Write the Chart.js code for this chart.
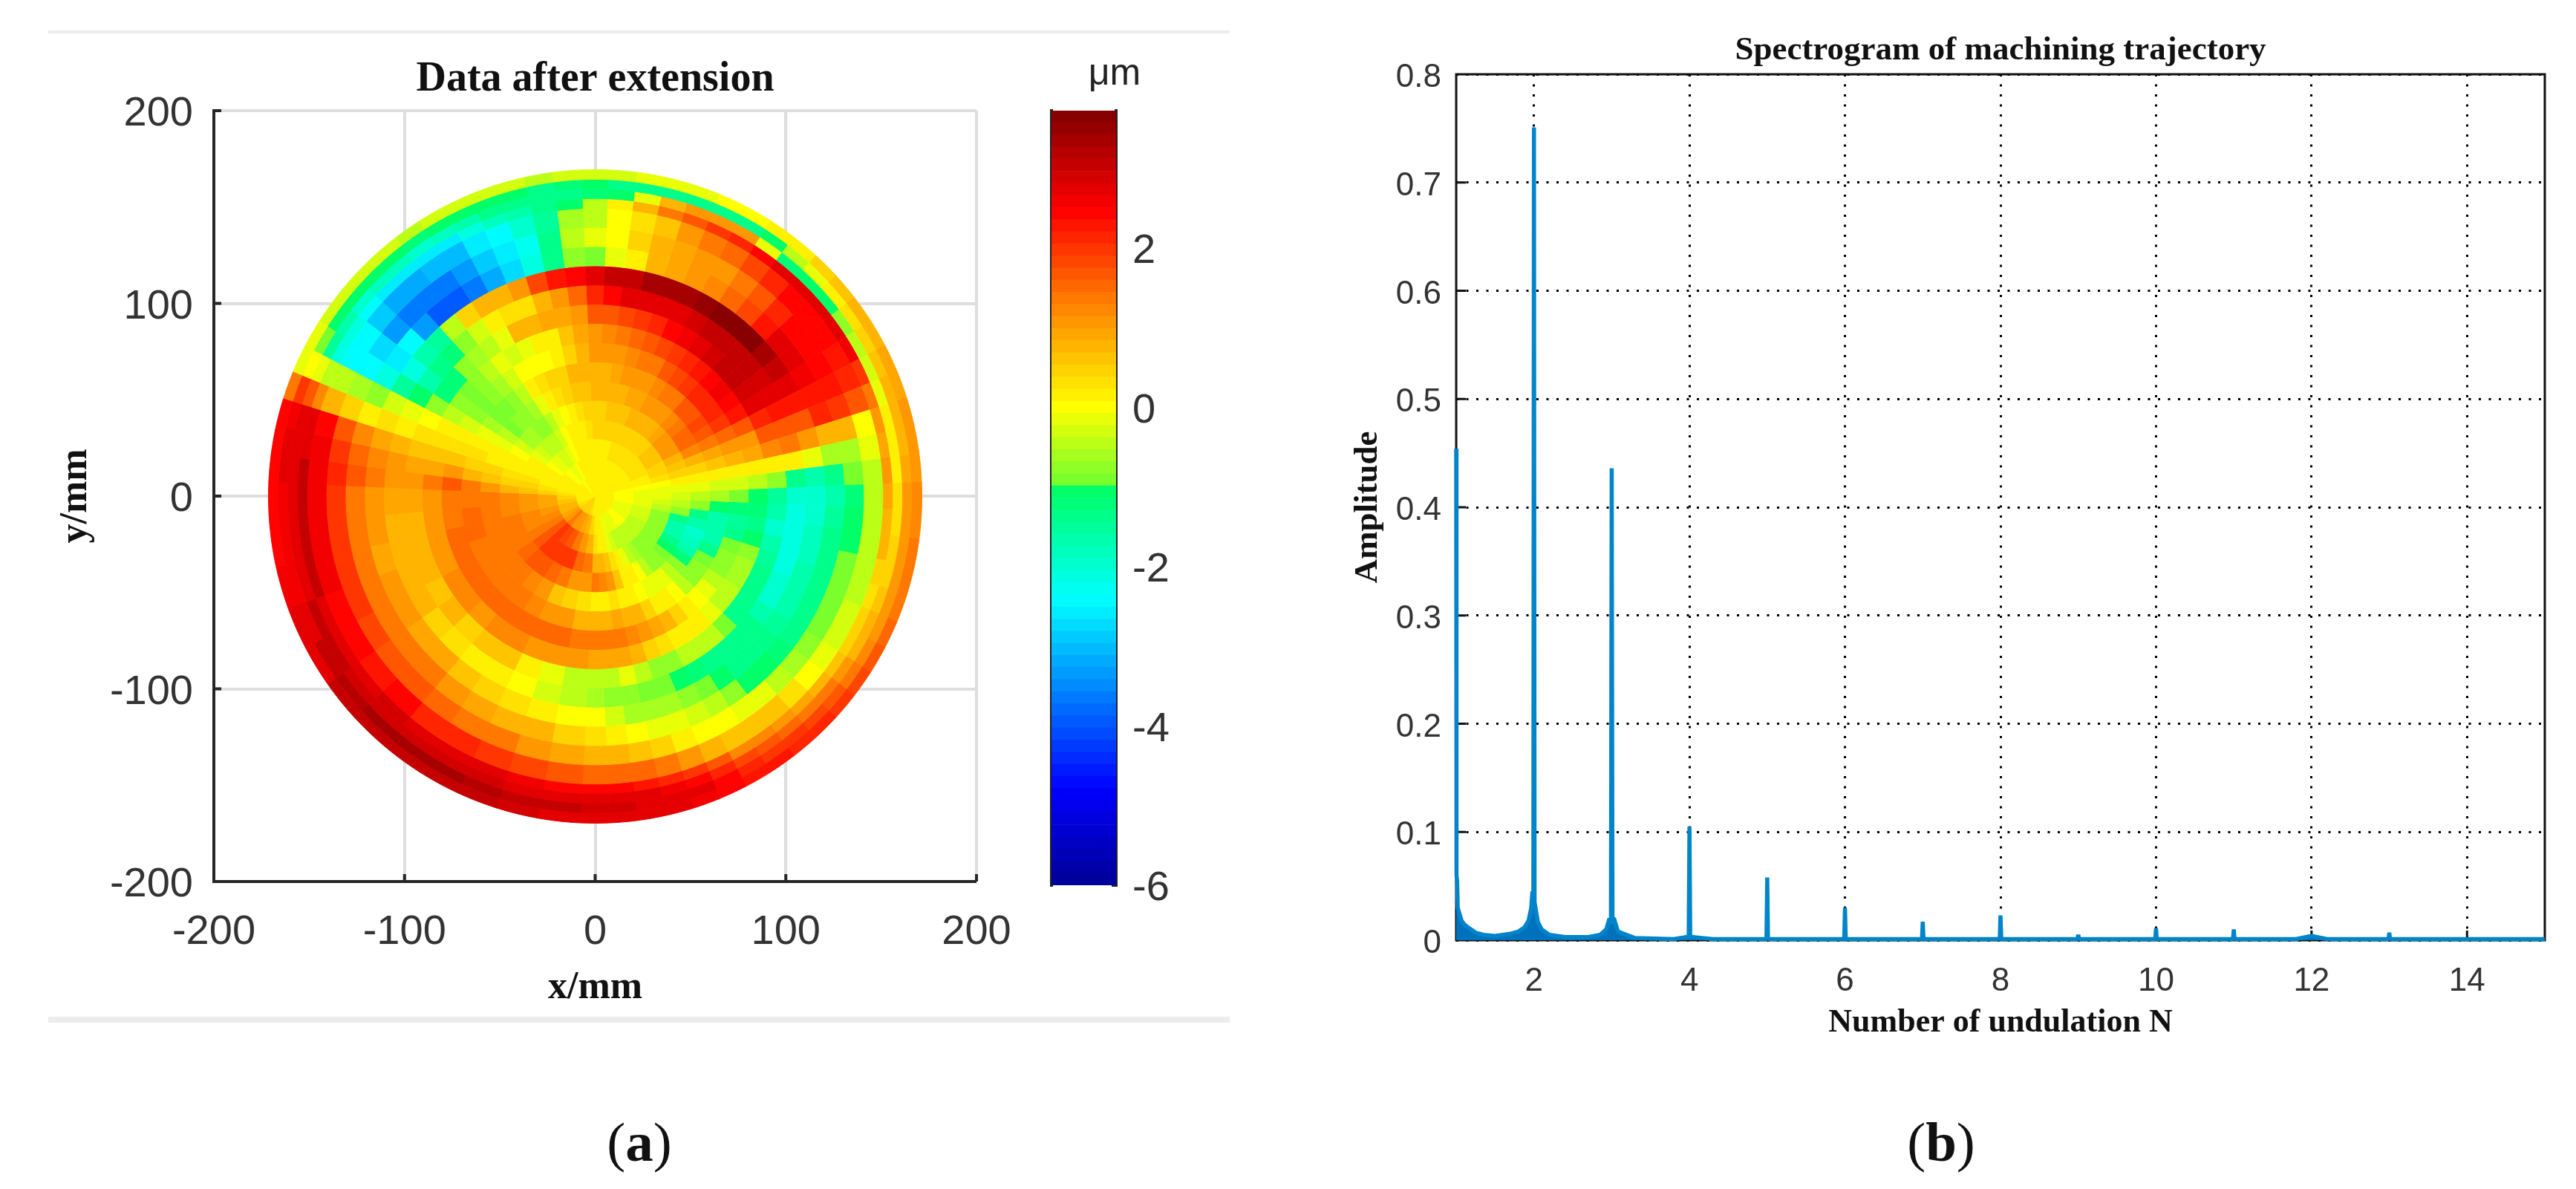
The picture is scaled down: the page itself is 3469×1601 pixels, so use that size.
<!DOCTYPE html>
<html>
<head>
<meta charset="utf-8">
<title>Data after extension / Spectrogram</title>
<script src="https://cdn.jsdelivr.net/npm/chart.js@4"></script>
<style>
html,body{margin:0;padding:0;background:#fff;width:3469px;height:1601px;overflow:hidden}
canvas{position:absolute}
.rule{position:absolute;background:#ececec}
.cap{position:absolute;font:75px "Liberation Serif",serif;color:#111;transform:translateX(-50%)}
</style>
</head>
<body>
<div class="rule" style="left:65px;top:41px;width:1591px;height:4px"></div>
<div class="rule" style="left:65px;top:1369px;width:1591px;height:8px"></div>
<canvas id="mapAxes"></canvas>
<canvas id="mapDisc"></canvas>
<canvas id="colorbar"></canvas>
<canvas id="spectrum"></canvas>
<div class="cap" style="left:861px;top:1495px">(<b>a</b>)</div>
<div class="cap" style="left:2614px;top:1495px">(<b>b</b>)</div>
<script>
// left panel: surface error in um
var ringEdges = [0,10,20,30,40,50,60,70,80,90,100,110,120,130,140,150,155,160,165,170];
// angular width of each sector, clockwise, starting 2.5 deg left of the top
var sectorSpans = [5,5,5,5,5,5,5,5,5,5,5,5,5,5,5,5,5,5,5,
 5,5,5,5,5,5,5,5,5,5,5,5,5,5,5,5,5,5,
 7.5,7.5,7.5,7.5,7.5,7.5,7.5,7.5,7.5,7.5,7.5,7.5,
 5,5,5,5,5,5,5,5,5,5,5,5,5,5,5,5,5];
// one row per sector, values from the centre to the rim
var sectorValues = [
 [.1,.1,.2,.4,.5,.7,.8,1,1,1.6,2.2,2.8,-.9,-.2,-.5,-.4,-1.2,-1,-.3],
 [.1,.1,.2,.4,.5,.7,.8,1,1.2,1.7,2.4,3,-.2,0,0,.1,-1,-1.3,-.3],
 [.1,.1,.2,.4,.6,.8,.9,1.1,1.4,1.8,2.7,3.1,.1,.4,.3,.7,-.2,-1.4,-.2],
 [.1,.1,.2,.4,.6,.8,1,1.2,1.5,2,2.7,3.3,.7,.7,.6,1.4,.8,-1.4,-.2],
 [.1,.1,.3,.5,.6,.9,1,1.3,1.6,2.2,2.7,3.4,.9,.9,1,1.7,1,-1.4,-.1],
 [.1,.1,.3,.5,.7,.9,1.1,1.4,1.8,2.4,2.8,3.3,1,1,1.3,2,1,-1.3,0],
 [.1,.1,.3,.5,.7,1,1.2,1.6,2,2.6,2.9,3.5,1.2,1.1,1.5,2.2,1,-1.3,0],
 [.1,.1,.3,.5,.7,1,1.3,1.8,2.2,2.8,3,3.6,1.5,1.3,1.8,2.5,-.2,-1,.2],
 [.1,.1,.3,.5,.8,1.1,1.4,1.9,2.3,2.9,3.1,3.6,1.8,1.6,2.2,2.7,-1.2,-.5,.2],
 [.1,.1,.3,.5,.9,1.2,1.6,2.1,2.5,3,3.1,3.6,2.3,2.1,2.4,2.7,-1.1,-.1,.4],
 [.1,.1,.3,.6,1,1.4,1.7,2.2,2.6,3,3.1,3.3,2.7,2.4,2.5,2.7,-1,.2,.6],
 [.1,.1,.3,.6,1,1.5,1.8,2.1,2.5,2.9,2.9,3,2.7,2.5,2.4,2.7,-.8,.3,.7],
 [.1,.1,.3,.6,1,1.5,1.7,1.9,2.3,2.7,2.7,2.7,2.6,2.5,2.3,2.6,-.5,.5,.8],
 [.1,.1,.3,.5,.8,1.2,1.3,1.5,1.6,2.2,2.3,2.3,2.3,2.3,2.2,2,-.3,.6,.85],
 [.1,.1,.2,.4,.6,.8,.9,1,1,1.6,1.6,1.7,2.2,2,1.7,1.3,-.1,.7,.9],
 [.1,.1,.2,.3,.4,.5,.6,.7,.9,1.2,1.4,1,.7,.7,0,1,.1,.8,1],
 [.1,0,0,0,.1,.1,.1,.1,.1,.1,.1,-.2,-.6,-.6,-.2,.9,.1,.8,1],
 [.1,0,-.1,-.1,-.2,-.2,-.3,-.3,-.5,-.7,-1.4,-1.6,-1.4,-.9,-.4,1,.2,.9,1.1],
 [.1,0,-.1,-.2,-.3,-.4,-.6,-.9,-1.1,-1.5,-2,-2,-1.7,-1.2,-.5,.9,.3,1,1.2],
 [.1,0,-.1,-.3,-.5,-.8,-1.1,-1.2,-1.2,-1.7,-2.1,-1.9,-1.5,-1.1,-.4,.8,.35,1.05,1.25],
 [.1,0,-.2,-.5,-.7,-1.3,-1.6,-1.5,-1.3,-1.9,-2.2,-1.8,-1.4,-1,-.4,.7,.4,1.1,1.3],
 [.1,-.1,-.3,-.7,-1.3,-1.7,-1.7,-1.3,-1,-1.7,-2.1,-1.8,-1.4,-.9,-.4,.5,.5,1,1.35],
 [.1,-.1,-.3,-.8,-1.7,-1.9,-1.7,-.9,-.7,-1.5,-2.1,-1.7,-1.4,-.9,-.4,.3,.6,1,1.4],
 [.1,-.1,-.35,-.8,-1.6,-1.8,-1.4,-.8,-.6,-1.4,-2,-1.7,-1.3,-.9,-.3,.4,.7,1.1,1.55],
 [.1,-.1,-.4,-.7,-1.3,-1.6,-.9,-.7,-.6,-1.4,-1.9,-1.6,-1.3,-.9,-.3,.5,.8,1.2,1.7],
 [.1,-.1,-.45,-.7,-1.1,-1.2,-.8,-.4,-.5,-1.3,-1.7,-1.5,-1.3,-.8,-.2,.6,1,1.4,1.85],
 [.1,0,-.5,-.7,-.9,-.8,-.7,-.2,-.5,-1.3,-1.4,-1.4,-1.2,-.6,0,.7,1.3,1.6,2],
 [.1,0,-.5,-.7,-.8,-.5,-.4,0,-.2,-.9,-1.4,-1.4,-1.1,-.4,.3,.9,1.4,1.8,2.1],
 [.1,0,-.5,-.7,-.7,-.2,0,.2,.1,-.4,-1.3,-1.3,-1,-.2,.6,1.1,1.5,1.9,2.2],
 [.1,-.1,-.5,-.6,-.4,-.1,.1,.5,.1,-.5,-1.3,-1.1,-.8,-.1,.6,1.2,1.6,2,2.3],
 [.1,-.1,-.5,-.5,0,-.1,.2,.7,.1,-.4,-1.2,-.9,-.5,0,.6,1.2,1.8,2.2,2.3],
 [.1,-.2,-.4,-.2,.1,0,.5,.9,.3,-.7,-1,-.7,-.3,0,.8,1.6,2.1,2.5,2.5],
 [.1,-.2,-.3,.1,.2,.1,.8,1,.5,-.8,-.9,-.6,-.1,.1,1,2,2.4,2.7,2.6],
 [.1,-.1,-.1,.3,.6,.2,.8,1.2,.7,-.5,-.9,-.6,-.1,.4,1.3,2.2,2.6,2.8,2.7],
 [.1,.1,.2,.6,1,.3,.9,1.4,.9,-.2,-.8,-.6,0,.6,1.5,2.3,2.7,2.8,2.7],
 [.1,.1,.2,.7,1.2,.2,.8,1.35,.9,-.4,-.7,-.3,.2,.7,1.5,2.4,2.75,2.85,2.75],
 [.1,.1,.3,.7,1.3,.2,.7,1.3,.9,-.5,-.6,0,.3,.8,1.5,2.5,2.8,2.9,2.8],
 [.2,.4,.7,1.3,1,.3,.8,1.4,1,-.4,-.5,0,.4,.9,1.6,2.5,2.8,3,2.8],
 [.3,.7,1,1.5,1,.5,1,1.5,1,-.2,-.3,.1,.7,1.1,1.8,2.6,2.8,3.1,2.9],
 [.4,.9,1.4,1.9,1.3,.6,1.1,1.5,1,.2,0,.3,.8,1.3,1.9,2.7,2.9,3.2,3],
 [.5,1,1.6,2,1.5,1,1.2,1.5,1.2,.6,.2,.5,.9,1.4,2.1,2.8,2.9,3.3,3],
 [.5,1.1,1.8,2,1.7,1.2,1.3,1.5,1.2,.6,.2,.6,1.1,1.5,2.2,2.8,2.9,3.3,3.1],
 [.5,1.3,1.9,2,1.6,1.3,1.3,1.5,1.1,.4,.3,.9,1.3,1.7,2.4,2.9,2.9,3.3,3.1],
 [.4,1.1,1.7,1.7,1.5,1.3,1.3,1.5,1.2,.7,.5,.9,1.4,1.7,2.3,2.8,2.9,3.2,3],
 [.3,.9,1.4,1.3,1.4,1.3,1.3,1.5,1.2,.6,.7,1,1.4,1.8,2.4,2.7,3,3,2.8],
 [.3,.8,1.2,1.2,1.3,1.3,1.4,1.5,1.1,.7,.7,1,1.4,1.9,2.5,2.8,3,2.8,2.7],
 [.2,.7,1,1.2,1.3,1.3,1.5,1.5,1.1,.8,.7,.9,1.3,1.9,2.6,3.1,2.8,2.6,2.6],
 [.1,.6,.9,1.1,1.2,1.3,1.5,1.4,1,.8,.8,1,1.4,2,2.6,3.1,2.8,2.6,2.5],
 [.1,.5,.9,1,1.2,1.3,1.4,1.3,1,.9,.9,1,1.4,2,2.6,3.1,2.7,2.6,2.5],
 [.1,.3,.5,.6,.8,1,1.4,1.6,1.3,1.1,1.1,1.3,1.7,2.1,2.6,3,2.8,2.7,2.5],
 [.1,.2,.3,.4,.5,.6,.8,1,.9,.9,1,1.2,1.5,2,2.6,2.8,2.8,2.7,2.5],
 [.1,.1,.2,.3,.3,.4,.5,.6,.6,.6,.7,.9,1.2,1.7,2.5,2.7,2.7,2.6,2.5],
 [.1,.1,.1,.2,.2,.2,.3,.3,.3,.3,.2,.3,.1,.5,.8,1.2,1.6,1.9,1.4],
 [.1,.1,.1,.1,.1,.1,.1,.1,.1,0,-.2,-.3,-.7,-.6,-.5,-.5,-.2,0,-.1],
 [.1,.1,.1,.1,0,-.1,-.2,-.3,-.5,-.7,-1.1,-1.5,-2.1,-2.5,-2.4,-2.1,-1.5,-.9,-.2],
 [.1,.1,0,-.2,-.3,-.4,-.6,-.7,-.7,-1.2,-1.7,-2.1,-2.6,-2.7,-2.5,-2.2,-1.7,-1,-.3],
 [.1,0,-.1,-.3,-.6,-.9,-.9,-.9,-.9,-1.2,-1.4,-1.7,-2.4,-3.3,-2.9,-2.5,-1.9,-1.1,-.3],
 [.1,0,-.2,-.4,-.6,-.8,-.9,-.8,-.7,-.8,-1.2,-1.5,-3.4,-3.7,-3.2,-2.6,-1.8,-1,-.3],
 [0,-.1,-.3,-.5,-.7,-.8,-.8,-.6,-.4,-.6,-.7,-.4,-3.9,-3.7,-3.2,-2.6,-1.8,-1.1,-.3],
 [0,-.1,-.3,-.5,-.7,-.6,-.4,-.3,-.2,-.5,-.3,.5,-3.9,-3.6,-3.1,-2.6,-1.9,-1.2,-.4],
 [.1,0,-.1,-.3,-.4,-.2,.1,0,-.3,-.1,.1,.8,-3.6,-3.4,-3,-2.6,-1.8,-1.1,-.3],
 [.1,.1,0,0,-.2,.1,.3,0,-.1,.8,.3,.8,-3.2,-2.9,-2.6,-2.1,-1.6,-1,-.3],
 [.1,.1,.1,.1,0,.3,.4,0,.1,.8,.3,1.1,-2.8,-2.6,-2.4,-1.8,-1.4,-1,-.3],
 [.1,.1,.1,.1,.2,.4,.5,.1,.2,.9,.8,1.8,-2.1,-2.3,-2,-1.6,-1.4,-1,-.3],
 [.1,.1,.1,.2,.3,.6,.7,.4,.6,.9,1,2.3,-1.4,-1.3,-1.5,-1.4,-1.4,-1.3,-.4],
 [.1,.1,.2,.3,.5,.6,.8,.7,.9,1.1,1.5,2.4,-.8,-.4,-.6,-1,-1.4,-1.2,-.3]
];
var mapTicks = [-200,-100,0,100,200];
var colorTicks = [-6,-4,-2,0,2];
var colorMin = -6, colorMax = 3.72, colorLevels = 64;
var colorStopValues = [-6,-4.8,-2.4,-1.05,-1.05,0,1.3,2.46,3.72];
var colorStopRgb = [[0,0,150],[0,0,255],[0,255,255],[0,255,102],[102,255,51],[255,255,0],[255,128,0],[255,0,0],[128,0,0]];

// right panel: spectrum
var undulation = [1,1.004,1.012,1.02,1.04,1.07,1.1,1.15,1.25,1.35,1.5,1.7,1.8,1.88,1.93,1.965,1.98,1.992,2,2.008,2.02,2.05,2.1,2.2,2.4,2.7,2.85,2.93,2.97,2.99,3,3.01,3.03,3.08,3.3,3.8,3.96,3.99,4,4.01,4.04,4.3,4.99,5,5.01,5.99,6,6.01,6.99,7,7.01,7.99,8,8.01,8.99,9,9.01,9.99,10,10.01,10.99,11,11.01,11.8,12,12.2,12.99,13,13.01,15];
var amplitude = [.454,.06,.055,.03,.025,.018,.015,.012,.007,.005,.004,.006,.008,.012,.018,.03,.045,.03,.751,.035,.03,.017,.01,.005,.003,.003,.005,.01,.02,.015,.436,.02,.02,.008,.002,.001,.003,.003,.105,.003,.003,.001,.001,.058,.001,.001,.03,.001,.001,.017,.001,.001,.023,.001,.001,.005,.001,.001,.011,.001,.001,.01,.001,.001,.004,.001,.001,.007,.001,.001];
var spectrumXTicks = [2,4,6,8,10,12,14];
var spectrumYTicks = [0,.1,.2,.3,.4,.5,.6,.7,.8];

var SERIF = '"Liberation Serif", serif', SANS = '"Liberation Sans", sans-serif';

function place(id, l, t, w, h) {
	var c = document.getElementById(id);
	c.width = w; c.height = h;
	c.style.left = l + 'px'; c.style.top = t + 'px';
	c.style.width = w + 'px'; c.style.height = h + 'px';
	return c;
}
function levelColor(v) {
	var k = Math.min(colorLevels - 1, Math.max(0, Math.floor((v - colorMin) / (colorMax - colorMin) * colorLevels)));
	var mid = colorMin + (k + .5) * (colorMax - colorMin) / colorLevels, i = 0;
	while (i < colorStopValues.length - 2 && mid >= colorStopValues[i + 1]) i++;
	var f = (mid - colorStopValues[i]) / ((colorStopValues[i + 1] - colorStopValues[i]) || 1);
	var a = colorStopRgb[i], b = colorStopRgb[i + 1];
	return 'rgb(' + [0,1,2].map(function (n) { return Math.round(a[n] + (b[n] - a[n]) * f); }).join(',') + ')';
}
function fixedSize(size) {
	return function (s) {
		if (s.isHorizontal()) s.height = size; else s.width = size;
		s.paddingLeft = s.paddingRight = s.paddingTop = s.paddingBottom = 0;
	};
}
function useTicks(list) {
	return function (s) { s.ticks = list.map(function (v) { return {value: v}; }); };
}
// the frame and the inward tick marks of the original axes
var axisFrame = {
	id: 'axisFrame',
	beforeDatasetsDraw: function (chart, args, o) {
		var a = chart.chartArea, c = chart.ctx;
		c.save();
		c.strokeStyle = o.color; c.lineWidth = o.width;
		c.beginPath();
		o.sides.forEach(function (side) {
			if (side == 'left') { c.moveTo(a.left, a.top - o.width / 2); c.lineTo(a.left, a.bottom + o.width / 2); }
			if (side == 'right') { c.moveTo(a.right, a.top - o.width / 2); c.lineTo(a.right, a.bottom + o.width / 2); }
			if (side == 'top') { c.moveTo(a.left, a.top); c.lineTo(a.right, a.top); }
			if (side == 'bottom') { c.moveTo(a.left, a.bottom); c.lineTo(a.right, a.bottom); }
		});
		if (chart.scales.x && chart.scales.x.options.display) chart.scales.x.ticks.forEach(function (t) {
			var x = chart.scales.x.getPixelForValue(t.value);
			c.moveTo(x, a.bottom); c.lineTo(x, a.bottom - o.tick);
		});
		var y = chart.scales.y, right = y.options.position == 'right';
		y.ticks.forEach(function (t) {
			var p = y.getPixelForValue(t.value);
			c.moveTo(right ? a.right : a.left, p); c.lineTo(right ? a.right - o.tick : a.left + o.tick, p);
		});
		c.stroke();
		c.restore();
	}
};

// axes of the map
place('mapAxes', 71, 74, 1299, 1288);
new Chart(document.getElementById('mapAxes').getContext('2d'), {
	type: 'scatter',
	data: {datasets: [{data: [], showLine: false}]},
	plugins: [axisFrame],
	options: {
		responsive: false, animation: false, events: [],
		layout: {padding: {right: 55}},
		plugins: {
			legend: {display: false}, tooltip: {enabled: false},
			title: {display: true, fullSize: false, text: 'Data after extension', color: '#111',
				font: {family: SERIF, size: 56, weight: 'bold', lineHeight: 1.2}, padding: {top: 0, bottom: 7.8}},
			axisFrame: {color: '#262626', width: 4, tick: 10, sides: ['left', 'bottom']}
		},
		scales: {
			x: {type: 'linear', min: -200, max: 200, afterFit: fixedSize(175), afterBuildTicks: useTicks(mapTicks),
				grid: {color: '#dedede', lineWidth: 4, drawTicks: false}, border: {display: false},
				ticks: {color: '#333', padding: 35, maxRotation: 0, autoSkip: false, font: {family: SANS, size: 56}, callback: String},
				title: {display: true, text: 'x/mm', color: '#111', padding: 0, font: {family: SERIF, size: 52, weight: 'bold', lineHeight: 1.2}}},
			y: {type: 'linear', min: -200, max: 200, afterFit: fixedSize(217), afterBuildTicks: useTicks(mapTicks),
				grid: {color: '#dedede', lineWidth: 4, drawTicks: false}, border: {display: false},
				ticks: {color: '#333', padding: 28, labelOffset: 5, autoSkip: false, font: {family: SANS, size: 56}, callback: String},
				title: {display: true, text: 'y/mm', color: '#111', padding: 0, font: {family: SERIF, size: 52, weight: 'bold', lineHeight: 1.2}}}
		}
	}
});

// the disc: one doughnut ring per radius band, one slice per sector; rim first
var discRings = [];
for (var r = ringEdges.length - 2; r >= 0; r--) {
	var colors = sectorValues.map(function (row) { return levelColor(row[r]); });
	discRings.push({data: sectorSpans, backgroundColor: colors, borderColor: colors, borderWidth: 1, weight: ringEdges[r + 1] - ringEdges[r]});
}
place('mapDisc', 361, 228, 881, 881);
new Chart(document.getElementById('mapDisc').getContext('2d'), {
	type: 'doughnut',
	data: {datasets: discRings},
	options: {
		responsive: false, animation: false, events: [], cutout: 0, rotation: -2.5,
		plugins: {legend: {display: false}, tooltip: {enabled: false}}
	}
});

// colorbar
var bands = [];
for (var k = 0; k < colorLevels; k++) {
	var lo = colorMin + k * (colorMax - colorMin) / colorLevels, hi = lo + (colorMax - colorMin) / colorLevels;
	bands.push({data: [[lo, hi]], backgroundColor: levelColor((lo + hi) / 2), borderWidth: 0, barPercentage: 1, categoryPercentage: 1});
}
place('colorbar', 1326, 70, 260, 1170);
new Chart(document.getElementById('colorbar').getContext('2d'), {
	type: 'bar',
	data: {labels: [''], datasets: bands},
	plugins: [axisFrame],
	options: {
		responsive: false, animation: false, events: [],
		layout: {padding: {left: 90, bottom: 48}},
		plugins: {
			legend: {display: false}, tooltip: {enabled: false},
			title: {display: true, text: '\u03bcm', color: '#222', font: {family: SANS, size: 50, weight: 'normal', lineHeight: 1.2}, padding: {top: 0, bottom: 19}},
			axisFrame: {color: '#222', width: 4, tick: 6, sides: ['left', 'right']}
		},
		scales: {
			x: {display: false, stacked: true},
			y: {position: 'right', min: colorMin, max: colorMax, afterFit: fixedSize(83), afterBuildTicks: useTicks(colorTicks),
				grid: {display: false, drawTicks: false}, border: {display: false},
				ticks: {color: '#333', padding: 22, labelOffset: 5, autoSkip: false, font: {family: SANS, size: 56}, callback: String}}
		}
	}
});

// spectrum
place('spectrum', 1815, 41, 1647, 1363);
new Chart(document.getElementById('spectrum').getContext('2d'), {
	type: 'scatter',
	data: {datasets: [{
		data: undulation.map(function (n, i) { return {x: n, y: amplitude[i]}; }),
		showLine: true, pointRadius: 0, borderColor: '#0084ca', backgroundColor: '#0072bd',
		borderWidth: 5.5, borderJoinStyle: 'bevel', fill: 'origin', clip: false, tension: 0
	}]},
	plugins: [axisFrame],
	options: {
		responsive: false, animation: false, events: [],
		layout: {padding: {right: 35}},
		plugins: {
			legend: {display: false}, tooltip: {enabled: false},
			title: {display: true, fullSize: false, text: 'Spectrogram of machining trajectory', color: '#111',
				font: {family: SERIF, size: 45, weight: 'bold', lineHeight: 1.2}, padding: {top: 0, bottom: 5}},
			axisFrame: {color: '#111', width: 3, tick: 13, sides: ['left', 'right', 'top', 'bottom']}
		},
		scales: {
			x: {type: 'linear', min: 1, max: 15, afterFit: fixedSize(138), afterBuildTicks: useTicks(spectrumXTicks),
				grid: {color: '#000', lineWidth: 3, drawTicks: false}, border: {display: false, dash: [3, 10.5]},
				ticks: {color: '#333', padding: 29, maxRotation: 0, autoSkip: false, font: {family: SANS, size: 44}, callback: String},
				title: {display: true, text: 'Number of undulation N', color: '#111', padding: 0, font: {family: SERIF, size: 44, weight: 'bold', lineHeight: 1.2}}},
			y: {type: 'linear', min: 0, max: .8, afterFit: fixedSize(146), afterBuildTicks: useTicks(spectrumYTicks),
				grid: {color: '#000', lineWidth: 3, drawTicks: false}, border: {display: false, dash: [3, 10.5]},
				ticks: {color: '#333', padding: 20, labelOffset: 5, autoSkip: false, font: {family: SANS, size: 44}, callback: String},
				title: {display: true, text: 'Amplitude', color: '#111', padding: 0, font: {family: SERIF, size: 45, weight: 'bold', lineHeight: 1.2}}}
		}
	}
});
</script>
</body>
</html>
